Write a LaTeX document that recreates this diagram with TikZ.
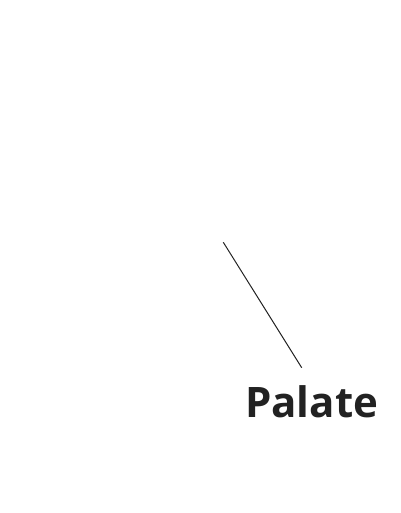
\documentclass[tikz,border=0pt]{standalone}
\usepackage{fontspec}
\setmainfont{Open Sans}
\definecolor{ink}{HTML}{222222}
\begin{document}
\begin{tikzpicture}[x=1pt,y=1pt,
  lbl/.style={inner sep=0pt, anchor=base west, text=ink, font=\fontsize{42}{50}\selectfont\bfseries},
  leader/.style={draw=ink, line width=1pt}]
\useasboundingbox (0,0) rectangle (400,513);
\node[lbl] (palate) at (245,95.7) {Palate};
\coordinate (top) at (223.3,270.7);
\coordinate (bot) at (301.7,145.3);
\draw[leader] (top) -- (bot);
\end{tikzpicture}
\end{document}
